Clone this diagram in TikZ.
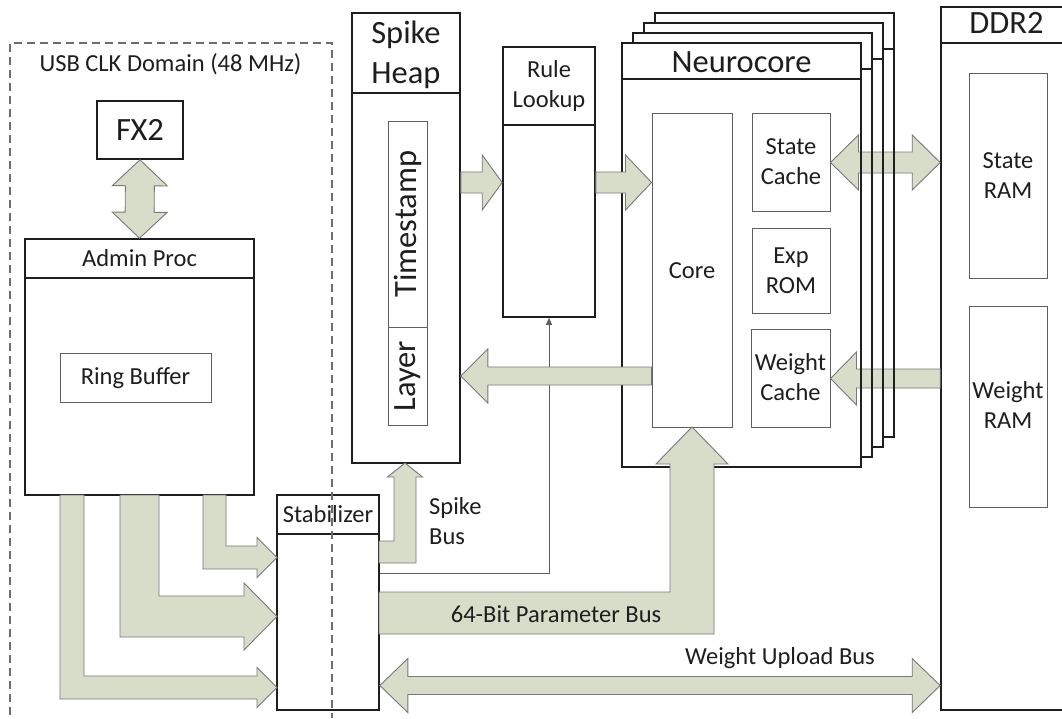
\documentclass[tikz,border=0pt]{standalone}
\usepackage{fontspec}
\setmainfont{Carlito}
\usetikzlibrary{calc,fit,arrows.meta}
\definecolor{busfill}{RGB}{216,221,201}
\definecolor{busline}{RGB}{120,120,120}
\definecolor{boxline}{RGB}{30,30,30}
\definecolor{innerline}{RGB}{95,95,95}
\definecolor{txt}{RGB}{30,30,30}
\definecolor{domline}{RGB}{110,110,110}
\tikzset{
 mainbox/.style={draw=boxline, line width=1.6pt, fill=white, inner sep=0pt},
 subbox/.style={draw=innerline, line width=1pt, fill=white, inner sep=0pt},
 bus/.style={fill=busfill, draw=busline, line width=0.9pt, line join=miter},
 lbl/.style={font=\fontsize{24.5}{30}\selectfont, text=txt, inner sep=0pt, align=center},
 ttl/.style={font=\fontsize{32.5}{40}\selectfont, text=txt, inner sep=0pt, align=center},
 divider/.style={draw=boxline, line width=1.6pt},
 dom/.style={draw=domline, line width=1.1pt, dash pattern=on 8pt off 5pt},
 ctrl/.style={draw=innerline, line width=1pt}
}
% #1 start, #2 tip, #3 shaft half width, #4 head half width, #5 head length
\newcommand\BlockArrow[5]{%
 \coordinate (ba-s) at #1; \coordinate (ba-t) at #2;
 \coordinate (ba-b) at ($(ba-t)!#5!(ba-s)$);
 \filldraw[bus] ($(ba-s)!#3!90:(ba-t)$) -- ($(ba-b)!#3!90:(ba-t)$) -- ($(ba-b)!#4!90:(ba-t)$)
   -- (ba-t) -- ($(ba-b)!#4!-90:(ba-t)$) -- ($(ba-b)!#3!-90:(ba-t)$) -- ($(ba-s)!#3!-90:(ba-t)$) -- cycle;
}
\newcommand\DoubleArrow[5]{%
 \coordinate (ba-s) at #1; \coordinate (ba-t) at #2;
 \coordinate (ba-b1) at ($(ba-s)!#5!(ba-t)$);
 \coordinate (ba-b2) at ($(ba-t)!#5!(ba-s)$);
 \filldraw[bus] (ba-s) -- ($(ba-b1)!#4!90:(ba-t)$) -- ($(ba-b1)!#3!90:(ba-t)$) -- ($(ba-b2)!#3!90:(ba-t)$)
   -- ($(ba-b2)!#4!90:(ba-t)$) -- (ba-t) -- ($(ba-b2)!#4!-90:(ba-t)$) -- ($(ba-b2)!#3!-90:(ba-t)$)
   -- ($(ba-b1)!#3!-90:(ba-t)$) -- ($(ba-b1)!#4!-90:(ba-t)$) -- cycle;
}
\begin{document}
\begin{tikzpicture}[x=1pt,y=-1pt]
\useasboundingbox (0,0) rectangle (1062,718);
\clip (0,0) rectangle (1062,718);
\fill[white] (0,0) rectangle (1062,718);

% ---------- boxes ----------
\node[mainbox, fit={(97,101) (183,159)}] (fx2) {};
\node[mainbox, fit={(25,239) (254,495)}] (admin) {};
\draw[divider] (25,278) -- (254,278);
\node[subbox, fit={(60,353) (211,402)}] (ring) {};

\node[mainbox, fit={(352,13) (460,463)}] (sh) {};
\draw[divider] (352,93) -- (460,93);
\node[subbox, fit={(388,121) (427,327)}] (ts) {};
\node[subbox, fit={(388,327) (427,425)}] (layer) {};

\node[mainbox, fit={(503,47) (595,317)}] (rl) {};
\draw[divider] (503,125) -- (595,125);

\foreach \i in {3,2,1} {
 \node[mainbox, fit={({622+11*\i},{43-10*\i}) ({861+11*\i},{467-10*\i})}] (nc\i) {};
 \draw[divider] ({622+11*\i},{79-10*\i}) -- ({861+11*\i},{79-10*\i});
}
\node[mainbox, fit={(622,43) (861,467)}] (nc) {};
\draw[divider] (622,79) -- (861,79);
\node[subbox, fit={(652,113) (732,427)}] (core) {};
\node[subbox, fit={(752,113) (830,211)}] (sc) {};
\node[subbox, fit={(752,228) (830,313)}] (rom) {};
\node[subbox, fit={(751,329) (830,427)}] (wc) {};

\node[mainbox, fit={(941,7) (1090,710)}] (ddr) {};
\draw[divider] (941,43) -- (1090,43);
\node[subbox, fit={(969,73) (1047,278)}] (sram) {};
\node[subbox, fit={(969,306) (1047,507)}] (wram) {};

\node[mainbox, fit={(277,495) (379,710)}] (stab) {};
\draw[divider] (277,534) -- (379,534);

% ---------- thin control line ----------
\coordinate (y6) at (0,573);
\draw[ctrl, -{Triangle[length=7pt,width=6pt]}] (stab.east |- y6) -| (rl.south);

% ---------- block arrows ----------
\coordinate (y1) at (0,182.5);
\BlockArrow{(sh.east |- y1)}{(rl.west |- y1)}{10.5pt}{27.5pt}{20pt}
\BlockArrow{(rl.east |- y1)}{(core.west |- y1)}{10.5pt}{27.5pt}{26pt}
\coordinate (y2) at (0,376);
\BlockArrow{(core.west |- y2)}{(sh.east |- y2)}{9pt}{27pt}{27pt}
\coordinate (y3) at (0,162.5);
\DoubleArrow{(sc.east |- y3)}{(ddr.west |- y3)}{10.5pt}{27.5pt}{28pt}
\coordinate (y4) at (0,378.5);
\BlockArrow{(ddr.west |- y4)}{(wc.east |- y4)}{9.5pt}{26.5pt}{26pt}
\DoubleArrow{(fx2.south)}{(admin.north)}{14.5pt}{27.5pt}{26pt}
\coordinate (y5) at (0,685.5);
\DoubleArrow{(stab.east |- y5)}{(ddr.west |- y5)}{9pt}{27pt}{28pt}

% Admin Proc -> Stabilizer
\filldraw[bus] (203,495) -- (203,569) -- (257,569) -- (257,577.5) -- (277,557.5) -- (257,537.5) -- (257,546) -- (226,546) -- (226,495) -- cycle;
\filldraw[bus] (120,495) -- (120,637) -- (244,637) -- (244,650) -- (277,616.5) -- (244,583) -- (244,596) -- (159,596) -- (159,495) -- cycle;
\filldraw[bus] (60,495) -- (60,699) -- (257,699) -- (257,707.5) -- (277,687.5) -- (257,667.5) -- (257,676) -- (84,676) -- (84,495) -- cycle;
% Spike bus
\filldraw[bus] (379,541) -- (394,541) -- (394,477) -- (387.5,477) -- (405,463) -- (422.5,477) -- (416,477) -- (416,563) -- (379,563) -- cycle;
% 64-bit parameter bus
\filldraw[bus] (379,592) -- (670,592) -- (670,464) -- (656,464) -- (692,427) -- (728,464) -- (714,464) -- (714,634) -- (379,634) -- cycle;

% neurocore stack right edges over the arrows
\foreach \i in {0,1,2,3} \draw[divider] ({861+11*\i},{43-10*\i}) -- ({861+11*\i},{467-10*\i});

% ---------- texts (anchor=base is the last line's baseline) ----------
\node[lbl, anchor=base] (tdom) at (170.5,71) {USB CLK Domain (48 MHz)};
\node[ttl, anchor=base] (tfx2) at (140,140) {FX2};
\node[lbl, anchor=base] (tadmin) at (139.5,266) {Admin Proc};
\node[lbl, anchor=base] (tring) at (135.5,384) {Ring Buffer};
\node[ttl, anchor=base] (tsh) at (406,83) {Spike\\Heap};
\node[ttl, rotate=90] (tts) at (407.5,224) {Timestamp};
\node[ttl, rotate=90] (tlayer) at (407.5,376) {Layer};
\node[lbl, anchor=base] (trl) at (549,107) {Rule\\Lookup};
\node[ttl, anchor=base] (tnc) at (741.5,72) {Neurocore};
\node[lbl, anchor=base] (tcore) at (692,278) {Core};
\node[lbl, anchor=base] (tsc) at (791,184) {State\\Cache};
\node[lbl, anchor=base] (trom) at (791,293) {Exp\\ROM};
\node[lbl, anchor=base] (twc) at (790.5,400) {Weight\\Cache};
\node[ttl, anchor=base] (tddr) at (1006.5,33) {DDR2};
\node[lbl, anchor=base] (tsram) at (1008,198) {State\\RAM};
\node[lbl, anchor=base] (twram) at (1008,428) {Weight\\RAM};
\node[lbl, anchor=base] (tstab) at (328,522) {Stabilizer};
\node[lbl, anchor=base west, align=left] (tsb) at (429,544) {Spike\\Bus};
\node[lbl, anchor=base] (tpb) at (556,622) {64-Bit Parameter Bus};
\node[lbl, anchor=base] (twub) at (780,664) {Weight Upload Bus};

% ---------- clock domain ----------
\draw[dom] (10,715) -- (10,43) -- (332,43) -- (332,718);
\end{tikzpicture}
\end{document}
